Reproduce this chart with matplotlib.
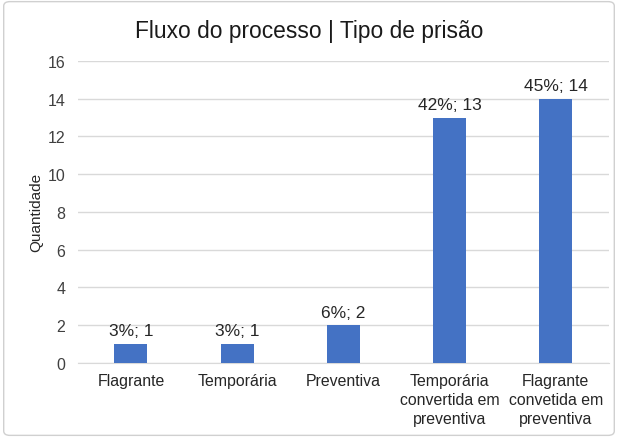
import matplotlib
matplotlib.use('Agg')
import matplotlib.pyplot as plt
from matplotlib.patches import FancyBboxPatch

# dados do gráfico
categorias = ["Flagrante", "Temporária", "Preventiva",
              "Temporária\nconvertida em\npreventiva",
              "Flagrante\nconvetida em\npreventiva"]
quantidade = [1, 1, 2, 13, 14]
percentual = ["3%", "3%", "6%", "42%", "45%"]
y_ticks = [0, 2, 4, 6, 8, 10, 12, 14, 16]

plt.rcParams['font.family'] = ['Liberation Sans', 'DejaVu Sans']

fig = plt.figure(figsize=(6.18, 4.39), dpi=100)
ax = fig.add_axes([0.126, 0.171, 0.859, 0.688])

x = list(range(len(categorias)))
bars = ax.bar(x, quantidade, width=0.31, color='#4472C4', zorder=3)

# rótulos "percentual; quantidade" acima das barras
for b, q, p in zip(bars, quantidade, percentual):
    ax.text(b.get_x() + b.get_width() / 2, q + 0.3, f"{p}; {q}",
            ha='center', va='bottom', fontsize=12.5, color='#262626')

ax.set_xlim(-0.5, len(categorias) - 0.5)
ax.set_ylim(0, 16)
ax.set_yticks(y_ticks)
ax.set_xticks(x)
ax.set_xticklabels(categorias, fontsize=11.4, color='#262626', linespacing=1.35)
ax.tick_params(axis='y', labelsize=11.5, colors='#404040', length=0, pad=9)
ax.tick_params(axis='x', length=0, pad=7)
ax.grid(axis='y', color='#D9D9D9', linewidth=1, zorder=0)
for s in ['top', 'right', 'left']:
    ax.spines[s].set_visible(False)
ax.spines['bottom'].set_color('#D9D9D9')
ax.set_ylabel("Quantidade", fontsize=11, color='#262626', labelpad=3)

fig.text(0.5, 0.929, "Fluxo do processo | Tipo de prisão", fontsize=16.4,
         color='#1a1a1a', ha='center', va='center')

borda = FancyBboxPatch((0.006, 0.006), 0.988, 0.988, boxstyle="round,pad=0,rounding_size=0.01",
                       transform=fig.transFigure, fill=False, edgecolor='#D0D0D0', linewidth=1)
fig.patches.append(borda)

fig.savefig("out.png", dpi=100)
